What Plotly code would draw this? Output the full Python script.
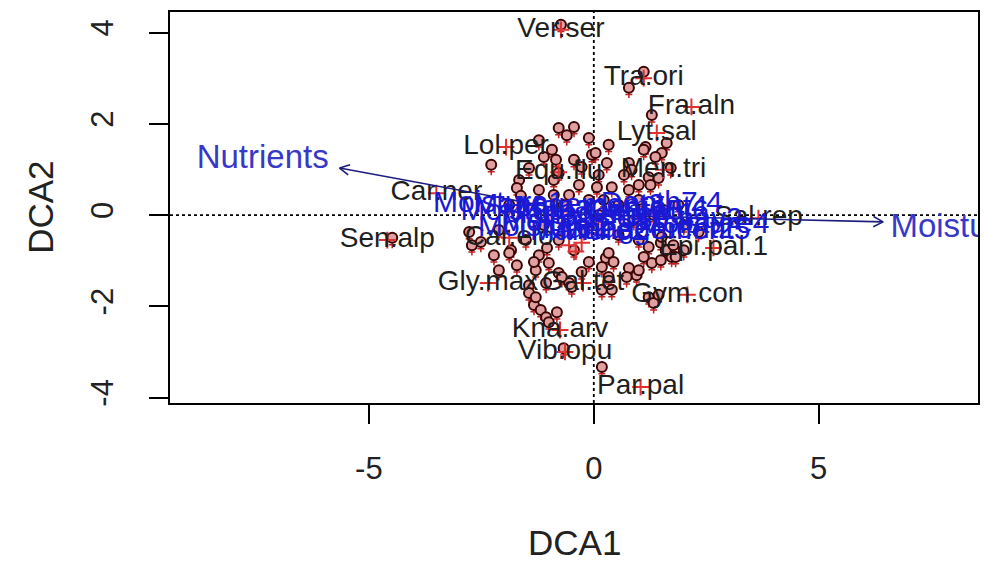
import math
import plotly.graph_objects as go

# ---------------- data ----------------
site_x = [-0.73, 1.11, 0.78, 1.29, -0.78, -0.44, -0.60, -0.11, 1.15, 1.62, 1.51, 1.37, 1.11, -2.28,
          -1.11, -0.84, -0.44, -1.44, -0.78, -0.27, -0.04, 0.04, 0.29, 0.78, 0.84, 1.22, 1.26, 0.78,
          0.40, 0.07, -0.33, -1.66, -1.71, -1.62, -1.22, -0.89, -0.55, 0.22, 0.55, 1.00, 1.55, 2.00,
          2.33, -2.71, -2.51, -1.84, -1.22, -1.04, -1.88, -1.00, -2.11, -1.71, -1.29, -1.44, -1.44,
          -1.33, -1.18, -1.06, -0.82, -1.00, -1.33, -0.78, -0.55, -0.27, -0.49, -0.71, -1.29, -1.06,
          0.18, 0.27, 0.44, 0.78, 0.95, 1.11, 1.29, 1.49, 1.73, 1.22, 1.33, 1.44, 0.18, -0.67, 0.33,
          0.18, 1.00, 1.60, 1.82, 1.49, 1.22, 0.40, 0.33, 0.73, -0.11, 1.00, 1.77, 2.00, 1.51, 0.55,
          -0.78, -0.44, -1.51, -2.11, -2.77, -1.11, -0.22, 0.11, 0.89, 1.33, 1.88, -1.22, -0.93, 0.33,
          0.67, 1.00, 0.11, -0.67, -0.11, -1.88, -0.89, -2.22, 1.44, 1.71, -4.48]
site_y = [4.17, 3.14, 2.79, 2.19, 1.91, 1.93, 1.75, 1.69, 1.49, 1.58, 1.36, 1.27, 1.43, 1.10,
          1.27, 1.21, 1.21, 1.03, 0.92, 1.05, 1.32, 1.36, 1.14, 1.14, 0.99, 0.83, 0.66, 0.55,
          0.61, 0.61, 0.66, 0.77, 0.59, 0.42, 0.55, 0.77, 0.44, 0.33, 0.22, 0.33, 0.11, -0.22,
          -0.37, -0.66, -0.59, -0.77, -0.88, -0.72, -0.83, -1.05, -1.21, -1.10, -1.21, -1.54, -1.71,
          -1.97, -2.08, -2.24, -2.13, -2.35, -1.03, -1.27, -1.49, -1.25, -1.58, -1.36, -1.80, -1.49,
          -1.64, -0.94, -1.03, -1.16, -1.32, -0.92, -1.05, -0.99, -0.92, -1.80, -1.93, -1.75, -3.33, -2.92, -0.83,
          -1.14, -1.21, -0.77, -0.92, -0.61, -0.70, -1.64, -1.36, -1.36, -1.03, -0.55, -0.66, -0.77, -0.48, -0.44,
          -0.55, -0.77, -0.55, -0.33, -0.37, -0.22, -0.33, 0.00, -0.11, 0.00, 0.22, 1.64, 1.43, 1.54,
          0.88, 0.66, 0.88, 0.22, 0.33, 0.22, 0.44, -0.88, 0.81, 1.03, -0.50]

sp_names = ["Ver.ser", "Tra.ori", "Fra.aln", "Lyt.sal", "Lol.per", "Men.tri", "Equ.flu", "Car.ner",
            "Sen.alp", "Car.elo", "Gly.max", "Gal.tet", "Gym.con", "Kna.arv", "Vib.opu", "Par.pal",
            "Epi.pal.1", "Sal.rep"]
sp_x = [-0.73, 1.11, 2.17, 1.40, -1.95, 1.55, -0.78, -3.50, -4.59, -1.88, -2.35, -0.24, 2.08,
        -0.75, -0.64, 1.04, 2.66, 3.66]
sp_y = [4.06, 3.00, 2.37, 1.80, 1.49, 0.99, 0.94, 0.48, -0.55, -0.50, -1.49, -1.49, -1.75,
        -2.52, -3.00, -3.77, -0.72, -0.07]
extra_sp_x = [-0.55, -0.27, -0.40]
extra_sp_y = [-0.66, -0.61, -0.80]

vec_names = ["Nutrients", "Moisture"]
vec_x = [-5.65, 6.43]
vec_y = [1.03, -0.15]
vec_lab_x = [-7.36, 8.00]
vec_lab_y = [1.21, -0.31]

cent_names = ["Moisture1", "Management3", "Depth7.4", "Management1", "Moisture2",
              "Management2", "Moisture4", "Moisture3", "Management4", "Depth5.6",
              "Moisture5", "Use.hay2", "Manure2", "Management5"]
cent_x = [-2.11, -0.55, 1.51, 0.11, -1.11, 1.00, 2.44, -1.50, 0.40, 1.20,
          -0.60, 1.90, -0.10, 1.35]
cent_y = [0.22, 0.18, 0.24, 0.00, -0.29, -0.33, -0.24, 0.05, 0.14, 0.05,
          -0.18, -0.12, -0.38, -0.36]

x_range = [-9.42, 8.54]
y_range = [-4.12, 4.45]
x_ticks = [-5, 0, 5]
y_ticks = [-4, -2, 0, 2, 4]

# ---------------- geometry helpers ----------------
W, H = 984, 563
ML, MR, MT, MB = 170, 4, 12, 160
sx = (W - ML - MR) / (x_range[1] - x_range[0])
sy = (H - MT - MB) / (y_range[1] - y_range[0])

FONT = "Liberation Sans, Arial, sans-serif"

fig = go.Figure()

# site points
fig.add_trace(go.Scatter(
    x=site_x, y=[v - 0.15 for v in site_y], mode="markers",
    marker=dict(symbol="cross-thin", size=5, line=dict(color="#c02020", width=1.5)),
    hoverinfo="skip", showlegend=False))
fig.add_trace(go.Scatter(
    x=site_x, y=site_y, mode="markers",
    marker=dict(symbol="circle", size=10, color="#e0a0a0",
                line=dict(color="#3c0505", width=2)),
    hoverinfo="skip", showlegend=False))

# species crosses
fig.add_trace(go.Scatter(
    x=sp_x + extra_sp_x, y=sp_y + extra_sp_y, mode="markers",
    marker=dict(symbol="cross-thin", size=12, line=dict(color="#e03030", width=2)),
    hoverinfo="skip", showlegend=False))
# species labels
fig.add_trace(go.Scatter(
    x=sp_x, y=sp_y, mode="text", text=sp_names, textposition="middle center",
    textfont=dict(family=FONT, size=28, color="#1e1e1e"),
    hoverinfo="skip", showlegend=False, cliponaxis=True))

# environmental vectors
lx, ly = [], []
L, ang = 11, math.radians(28)
for vx, vy in zip(vec_x, vec_y):
    lx += [0, vx, None]
    ly += [0, vy, None]
    px, py = vx * sx, vy * sy
    a = math.atan2(py, px)
    h = []
    for s in (1, -1):
        b = a + math.pi + s * ang
        h.append(((px + L * math.cos(b)) / sx, (py + L * math.sin(b)) / sy))
    lx += [h[0][0], vx, h[1][0], None]
    ly += [h[0][1], vy, h[1][1], None]
fig.add_trace(go.Scatter(x=lx, y=ly, mode="lines",
                         line=dict(color="#1c1c80", width=1.6),
                         hoverinfo="skip", showlegend=False))

fig.add_trace(go.Scatter(
    x=cent_x, y=cent_y, mode="text", text=cent_names, textposition="middle center",
    textfont=dict(family=FONT, size=30, color="#1a1ad6"),
    hoverinfo="skip", showlegend=False, cliponaxis=True))
fig.add_trace(go.Scatter(
    x=vec_lab_x, y=vec_lab_y, mode="text", text=vec_names, textposition="middle center",
    textfont=dict(family=FONT, size=33, color="#3838c8"),
    hoverinfo="skip", showlegend=False, cliponaxis=True))

# dotted zero lines
fig.add_shape(type="line", x0=0, x1=0, y0=0, y1=1, xref="x", yref="y domain",
              line=dict(color="black", width=1.8, dash="dot"), layer="below")
fig.add_shape(type="line", x0=0, x1=1, y0=0, y1=0, xref="x domain", yref="y",
              line=dict(color="black", width=1.8, dash="dot"), layer="below")

# axis titles
fig.add_annotation(text="DCA1", xref="paper", yref="paper", x=0.5,
                   y=-(542 - (H - MB)) / (H - MT - MB), showarrow=False,
                   font=dict(family=FONT, size=35, color="#222"), xanchor="center", yanchor="middle")
fig.add_annotation(text="DCA2", xref="paper", yref="paper", x=(40 - ML) / (W - ML - MR),
                   y=0.5, showarrow=False, textangle=-90,
                   font=dict(family=FONT, size=35, color="#222"), xanchor="center", yanchor="middle")

axis_common = dict(showgrid=False, zeroline=False, showline=True, mirror=True,
                   linecolor="black", linewidth=1.6, ticks="outside", ticklen=19,
                   tickwidth=1.6, tickcolor="black",
                   tickfont=dict(family=FONT, size=31, color="#222"))
fig.update_xaxes(range=x_range, tickvals=x_ticks, ticktext=[str(v) for v in x_ticks],
                 ticklabelstandoff=18, **axis_common)
fig.update_yaxes(range=y_range, tickvals=y_ticks, ticktext=[str(v) for v in y_ticks],
                 tickangle=-90, ticklabelstandoff=24, **axis_common)

fig.update_layout(width=W, height=H, margin=dict(l=ML, r=MR, t=MT, b=MB),
                  plot_bgcolor="white", paper_bgcolor="white", showlegend=False)

fig.write_html("out.html")
